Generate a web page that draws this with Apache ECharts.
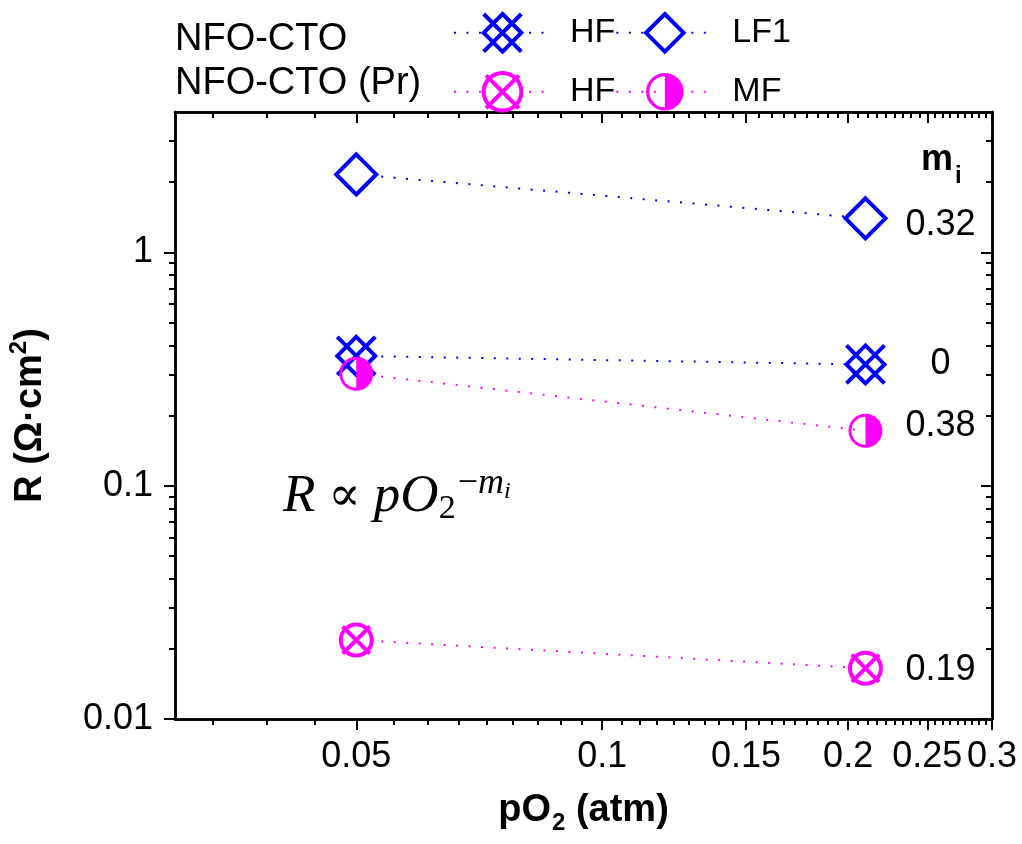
<!DOCTYPE html>
<html>
<head>
<meta charset="utf-8">
<script src="https://cdn.jsdelivr.net/npm/echarts@6/dist/echarts.min.js"></script>
<style>
  html, body { margin: 0; padding: 0; background: #fff; }
  #chart { width: 1022px; height: 844px; }
</style>
</head>
<body>
<div id="chart"></div>
<script>
// ── Data ─────────────────────────────────────────────────────────────────────
const pO2   = [0.05, 0.21];          // atm
const rHF   = [0.36, 0.331];         // NFO-CTO, HF
const rLF1  = [2.16, 1.40];          // NFO-CTO, LF1
const rHFPr = [0.0218, 0.0165];      // NFO-CTO (Pr), HF
const rMFPr = [0.302, 0.172];        // NFO-CTO (Pr), MF
const mHF = '0', mLF1 = '0.32', mHFPr = '0.19', mMFPr = '0.38';

const xRange = [0.03, 0.3];
const yRange = [0.01, 4];
const xTicks = [0.05, 0.1, 0.15, 0.2, 0.25, 0.3];
const yTicks = [0.01, 0.1, 1];

// minor ticks: Origin-style, 8 between each 0.05 step on x, 2..9 per decade on y
const xMinor = [];
for (let k = 6; k <= 54; k++) if (k % 9) xMinor.push(k * 0.05 / 9);
const yMinor = [];
[0.01, 0.1, 1].forEach(d => { for (let k = 2; k <= 9; k++) if (k * d < yRange[1]) yMinor.push(k * d); });

// ── Styles ──────────────────────────────────────────────────────────────────
const FONT  = '"Liberation Sans", Arial, sans-serif';
const SERIF = '"Liberation Serif", "DejaVu Serif", serif';
const BLUE = '#0000FF', MAGENTA = '#FF00FF';
const DOTS = [2, 10.5];
const STROKE = 4;

const SYM_DCROSS = 'path://M0 0L40 40M40 0L0 40M20 0L40 20L20 40L0 20Z';
const SYM_DIAMOND = 'path://M20 0L40 20L20 40L0 20Z';
const SYM_CIRCLEX = 'path://M20 4A16 16 0 1 1 20 36A16 16 0 1 1 20 4ZM6 6L34 34M34 6L6 34';
const SYM_HALF = 'path://M20 0A20 20 0 1 1 20 40A20 20 0 1 1 20 0ZM20 3.5A16.5 16.5 0 0 0 20 36.5L20 3.5Z';

const lg = v => Math.log10(v);
const fmt = v => String(+Math.pow(10, v).toFixed(2));

function lineSeries(name, ys, color, symbol, size, filled, mText, dy) {
  return {
    name, type: 'line',
    data: pO2.map((x, i) => [lg(x), lg(ys[i])]),
    symbol, symbolSize: size, symbolKeepAspect: true,
    lineStyle: { color, width: 2, type: DOTS },
    itemStyle: filled
      ? { color, borderWidth: 0 }
      : { color: '#fff', borderColor: color, borderWidth: STROKE },
    label: {
      show: true, position: 'inside', offset: [75, dy],
      formatter: p => (p.dataIndex === 1 ? mText : ''),
      fontSize: 36, fontFamily: FONT, color: '#000'
    },
    emphasis: { disabled: true },
    animation: false
  };
}

function xAxisDef(pos, values, len, inside, labels) {
  return {
    type: 'value', position: pos, min: lg(xRange[0]), max: lg(xRange[1]),
    splitLine: { show: false },
    axisLine: { show: true, onZero: false, lineStyle: { color: '#000', width: 2.5 } },
    axisTick: { show: true, customValues: values.map(lg), length: len, inside, lineStyle: { color: '#000', width: 2 } },
    axisLabel: labels
      ? { show: true, customValues: values.map(lg), formatter: fmt, fontSize: 36, fontFamily: FONT, color: '#000', margin: 20 }
      : { show: false }
  };
}
function yAxisDef(pos, values, len, inside, labels) {
  return {
    type: 'value', position: pos, min: lg(yRange[0]), max: lg(yRange[1]),
    splitLine: { show: false },
    axisLine: { show: true, onZero: false, lineStyle: { color: '#000', width: 2.5 } },
    axisTick: { show: true, customValues: values.map(lg), length: len, inside, lineStyle: { color: '#000', width: 2 } },
    axisLabel: labels
      ? { show: true, customValues: values.map(lg), formatter: fmt, fontSize: 36, fontFamily: FONT, color: '#000', margin: 22 }
      : { show: false }
  };
}

const xAxes = [
  xAxisDef('bottom', xTicks, 11, false, true),
  xAxisDef('bottom', xMinor, 6, false, false),
  xAxisDef('top', xTicks, 11, true, false),
  xAxisDef('top', xMinor, 6, true, false)
];
Object.assign(xAxes[0], {
  name: '{b|pO}{s|2}{b| (atm)}', nameLocation: 'middle', nameGap: 68,
  nameTextStyle: {
    rich: {
      b: { fontSize: 38, fontWeight: 'bold', fontFamily: FONT, color: '#000' },
      s: { fontSize: 24, fontWeight: 'bold', fontFamily: FONT, color: '#000', padding: [24, 0, 0, 1] }
    }
  }
});

const yAxes = [
  yAxisDef('left', yTicks, 11, false, true),
  yAxisDef('left', yMinor, 6, false, false),
  yAxisDef('right', yTicks, 11, true, false),
  yAxisDef('right', yMinor, 6, true, false)
];
Object.assign(yAxes[0], {
  name: '{b|R (Ω·cm}{s|2}{b|)}', nameLocation: 'middle', nameGap: 120, nameRotate: 90,
  nameTextStyle: {
    rich: {
      b: { fontSize: 38, fontWeight: 'bold', fontFamily: FONT, color: '#000' },
      s: { fontSize: 24, fontWeight: 'bold', fontFamily: FONT, color: '#000', padding: [0, 0, 24, 0] }
    }
  }
});

const legendBase = {
  orient: 'horizontal', left: 453, padding: 0,
  itemWidth: 97, itemHeight: 47, itemGap: 0,
  selectedMode: false,
  formatter: n => n.replace(' (Pr)', ''),
  textStyle: { fontSize: 34, fontFamily: FONT, color: '#000', padding: [0, 0, 0, 14] }
};

const chart = echarts.init(document.getElementById('chart'), null, { renderer: 'canvas' });
chart.setOption({
  backgroundColor: '#fff',
  animation: false,
  grid: { left: 175, right: 30, top: 112, bottom: 125, containLabel: false, outerBoundsMode: 'none' },
  xAxis: xAxes,
  yAxis: yAxes,
  legend: [
    Object.assign({}, legendBase, {
      top: 12,
      data: [{ name: 'HF', itemStyle: { borderWidth: STROKE } }, { name: 'LF1', itemStyle: { borderWidth: STROKE } }]
    }),
    Object.assign({}, legendBase, {
      top: 71,
      data: [{ name: 'HF (Pr)', itemStyle: { borderWidth: STROKE } }, { name: 'MF (Pr)', itemStyle: { borderWidth: 0 } }]
    })
  ],
  series: [
    lineSeries('HF', rHF, BLUE, SYM_DCROSS, 38, false, mHF, 0),
    lineSeries('LF1', rLF1, BLUE, SYM_DIAMOND, 40, false, mLF1, 7),
    lineSeries('HF (Pr)', rHFPr, MAGENTA, SYM_CIRCLEX, 31, false, mHFPr, 2),
    lineSeries('MF (Pr)', rMFPr, MAGENTA, SYM_HALF, 34, true, mMFPr, -5)
  ],
  graphic: [
    { type: 'text', x: 175, y: 40, style: { text: 'NFO-CTO', fontSize: 38, fontFamily: FONT, fill: '#000', verticalAlign: 'middle' } },
    { type: 'text', x: 175, y: 84, style: { text: 'NFO-CTO (Pr)', fontSize: 38, fontFamily: FONT, fill: '#000', verticalAlign: 'middle' } },
    {
      type: 'text', x: 921, y: 160,
      style: {
        text: '{m|m}{i|i}', verticalAlign: 'middle', fill: '#000',
        rich: {
          m: { fontSize: 36, fontWeight: 'bold', fontFamily: FONT, fill: '#000' },
          i: { fontSize: 24, fontWeight: 'bold', fontFamily: FONT, fill: '#000', padding: [32, 0, 0, 2] }
        }
      }
    },
    {
      type: 'text', x: 283, y: 497,
      style: {
        text: '{it|R} {up|∝} {it|pO}{sub|2}{sup|−}{supi|m}{ssub|i}',
        verticalAlign: 'middle', fill: '#000', fontSize: 52, fontFamily: SERIF,
        rich: {
          it:   { fontSize: 53, fontStyle: 'italic', fontFamily: SERIF, fill: '#000' },
          up:   { fontSize: 48, fontFamily: SERIF, fill: '#000' },
          sub:  { fontSize: 34, fontFamily: SERIF, fill: '#000', padding: [24, 0, 0, 0] },
          sup:  { fontSize: 36, fontFamily: SERIF, fill: '#000', padding: [0, 0, 26, 2] },
          supi: { fontSize: 36, fontStyle: 'italic', fontFamily: SERIF, fill: '#000', padding: [0, 0, 26, 0] },
          ssub: { fontSize: 24, fontStyle: 'italic', fontFamily: SERIF, fill: '#000', padding: [0, 0, 10, 0] }
        }
      }
    }
  ]
});
</script>
</body>
</html>
